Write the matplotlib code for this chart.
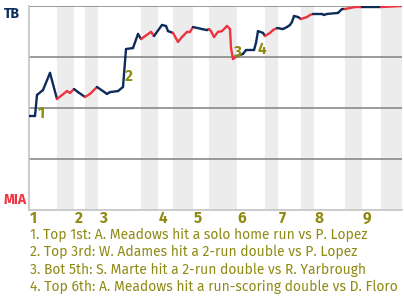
import matplotlib
matplotlib.use("Agg")
from matplotlib import pyplot as plt

# win probability for TB (%) by play
play_x = [0, 1.5, 2, 3.5, 5.25, 7, 9.5, 10.25, 11.25, 12.25, 14, 15.25, 17,
          19.5, 20.25, 22.25, 23.5, 24.25, 26, 27.25, 28, 30.5, 31.25, 33.25,
          34.25, 34.75, 36, 37.25, 38.25, 39.5, 40.25, 41, 43.25, 44.5, 45,
          45.5, 46.25, 47.25, 48.25, 49.5, 50.25, 50.5, 51, 52, 53.5, 54.25,
          56.25, 56.75, 57.25, 58.5, 59, 60.25, 61, 62, 63.5, 64.5, 65.25,
          65.75, 66.25, 67.25, 68, 69.5, 70.25, 71, 73.25, 73.75, 74.5, 77.25,
          78.25, 79, 81.5, 83.25, 88, 93.25]
tb_wp = [46.1, 46.1, 56.4, 58.8, 67.2, 54.4, 58.3, 57.4, 59.3, 57.8, 55.4,
         56.9, 60.3, 56.9, 57.8, 58.3, 60.3, 78.9, 79.4, 86.3, 83.8, 87.3,
         85.3, 90.7, 90.2, 87.7, 86.8, 82.4, 84.8, 87.3, 87.3, 89.7, 88.7,
         88.2, 88.7, 87.7, 84.8, 87.3, 87.7, 90.2, 88.7, 79.4, 74.0, 75.5,
         76.5, 78.4, 78.4, 81.9, 87.7, 86.8, 85.3, 86.8, 88.2, 89.2, 88.7,
         89.7, 90.7, 92.2, 95.1, 94.6, 93.6, 94.6, 95.6, 96.1, 96.1, 95.6,
         96.1, 96.6, 98.5, 98.5, 99.5, 99.5, 99.5, 100]

# half-inning starts
top_start = [0, 11.25, 17.25, 32.25, 41, 52, 62.25, 71.25, 83.25]
bot_start = [7, 14, 28, 36, 45, 59, 68, 79, 88]
x_end = 93.25
inning_labels = ['1', '2', '3', '4', '5', '6', '7', '8', '9']

# key events
event_x = [3, 25, 52, 58.25]
event_wp = [47.5, 65.7, 77.5, 78.9]
event_labels = ['1', '2', '3', '4']
event_text = ['1. Top 1st: A. Meadows hit a solo home run vs P. Lopez',
              '2. Top 3rd: W. Adames hit a 2-run double vs P. Lopez',
              '3. Bot 5th: S. Marte hit a 2-run double vs R. Yarbrough',
              '4. Top 6th: A. Meadows hit a run-scoring double vs D. Floro']

navy = '#0c2c5a'
red = '#ef3340'
olive = '#8f8a12'
font = ['Fira Sans', 'Roboto', 'DejaVu Sans']

fig = plt.figure(figsize=(4.04, 3.0), dpi=100)
ax = fig.add_axes([29/404, 90/300, 373/404, 204/300])
ax.set_xlim(0, x_end)
ax.set_ylim(0, 100)

bot_end = top_start[1:] + [x_end]
for b0, b1 in zip(bot_start, bot_end):
    ax.axvspan(b0, b1, color='#ececec', lw=0, zorder=0)

for g in [25, 50, 75, 100]:
    ax.axhline(g, color='#808080', lw=1.1, zorder=1)

def is_bottom(x):
    for b0, b1 in zip(bot_start, bot_end):
        if b0 < x <= b1:
            return True
    return False

for i in range(1, len(play_x)):
    c = red if is_bottom(play_x[i]) else navy
    ax.plot(play_x[i-1:i+1], tb_wp[i-1:i+1], color=c, lw=1.7,
            solid_capstyle='round', zorder=3)

for x, y, t in zip(event_x, event_wp, event_labels):
    ax.text(x, y, t, color=olive, fontsize=11, fontweight='bold',
            ha='center', va='center', family=font, zorder=4)

for x, t in zip(top_start, inning_labels):
    ax.text(x + 0.2, -4, t, color=olive, fontsize=11, fontweight='bold',
            ha='left', va='center', family=font)

for s in ['top', 'right']:
    ax.spines[s].set_visible(False)
for s in ['left', 'bottom']:
    ax.spines[s].set_color('#c4c4c4')
    ax.spines[s].set_linewidth(1.2)
ax.set_xticks([])
ax.set_yticks([])

fig.text(4/404, 1 - 14/300, 'TB', color=navy, fontsize=10,
         fontweight='bold', ha='left', va='center', family=font)
fig.text(4/404, 1 - 200/300, 'MIA', color=red, fontsize=10,
         fontweight='bold', ha='left', va='center', family=font)

for i, t in enumerate(event_text):
    fig.text(30/404, 1 - (235 + 17.3*i)/300, t, color=olive, fontsize=10,
             ha='left', va='center', family=font)

fig.savefig('out.png', dpi=100)
